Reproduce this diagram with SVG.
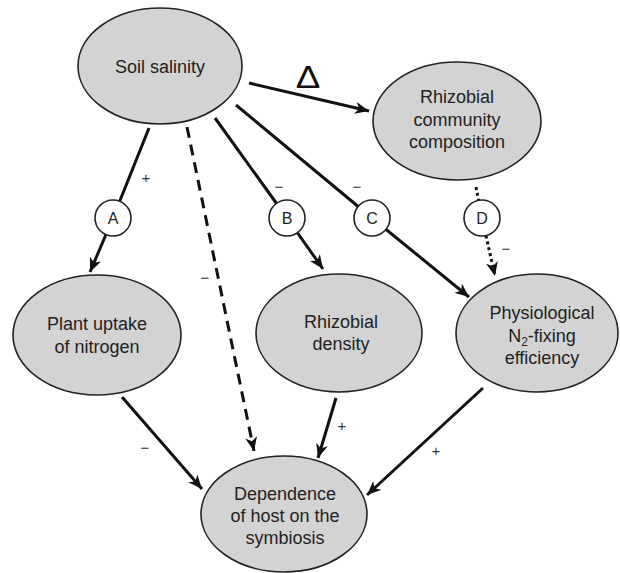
<svg xmlns="http://www.w3.org/2000/svg" width="620" height="573" viewBox="0 0 620 573">
<style>
.node ellipse{fill:#d3d3d3;stroke:#222;stroke-width:1.6}
.t{font-family:"Liberation Sans",Arial,sans-serif;font-size:18px;fill:#222;text-anchor:middle}
.c{fill:none;stroke:#111;stroke-width:3}
.dash{stroke-dasharray:11 7}
.dot{stroke-dasharray:3 3}
.lab circle{fill:#fff;stroke:#222;stroke-width:1.6}
.lab text{font-family:"Liberation Sans",Arial,sans-serif;font-size:16px;fill:#222;text-anchor:middle}
.s{font-family:"Liberation Sans",Arial,sans-serif;font-size:15px;fill:#333;text-anchor:middle}
</style>
<defs>
<marker id="ah" markerUnits="userSpaceOnUse" markerWidth="16" markerHeight="14" refX="14" refY="6" orient="auto">
<path d="M0,0 L14,6 L0,12 L4,6 z" fill="#111"/>
</marker>
</defs>
<rect width="620" height="573" fill="#fff"/>
<g id="connectors">
<line class="c" x1="249" y1="83" x2="369" y2="111" marker-end="url(#ah)"/>
<line class="c" x1="149" y1="128" x2="113" y2="218"/>
<line class="c" x1="113" y1="218" x2="90" y2="272" marker-end="url(#ah)"/>
<line class="c dash" x1="187" y1="127" x2="254" y2="451" marker-end="url(#ah)"/>
<line class="c" x1="215" y1="118" x2="287" y2="218"/>
<line class="c" x1="287" y1="218" x2="323" y2="269" marker-end="url(#ah)"/>
<line class="c" x1="236" y1="105" x2="372" y2="218"/>
<line class="c" x1="372" y1="218" x2="469" y2="297" marker-end="url(#ah)"/>
<line class="c dot" x1="476" y1="187" x2="482" y2="218"/>
<line class="c dot" x1="482" y1="218" x2="495" y2="276" marker-end="url(#ah)"/>
<line class="c" x1="122" y1="397" x2="202" y2="489" marker-end="url(#ah)"/>
<line class="c" x1="336" y1="398" x2="318" y2="458" marker-end="url(#ah)"/>
<line class="c" x1="483" y1="388" x2="367" y2="495" marker-end="url(#ah)"/>
<g class="lab">
<circle cx="113" cy="218" r="18"/><text x="113" y="224">A</text>
<circle cx="287" cy="218" r="18"/><text x="287" y="224">B</text>
<circle cx="372" cy="218" r="18"/><text x="372" y="224">C</text>
<circle cx="482" cy="218" r="18"/><text x="482" y="224">D</text>
</g>
<text transform="translate(308,88) scale(1.15,1)" style="font-family:'Liberation Sans',Arial,sans-serif;font-size:32px;fill:#111;text-anchor:middle">Δ</text>
<text class="s" x="146" y="183">+</text>
<text class="s" x="279" y="192">−</text>
<text class="s" x="357" y="192">−</text>
<text class="s" x="506" y="254">−</text>
<text class="s" x="205" y="283">−</text>
<text class="s" x="145" y="453">−</text>
<text class="s" x="342" y="431">+</text>
<text class="s" x="436" y="456">+</text>
</g>
<g id="soil" class="node">
<ellipse cx="160" cy="66" rx="82" ry="58"/>
<text class="t" x="160" y="73">Soil salinity</text>
</g>
<g id="community" class="node">
<ellipse cx="457" cy="121" rx="84" ry="59"/>
<text class="t" x="457" y="103">Rhizobial</text>
<text class="t" x="457" y="126">community</text>
<text class="t" x="457" y="148">composition</text>
</g>
<g id="uptake" class="node">
<ellipse cx="97" cy="335" rx="84" ry="60"/>
<text class="t" x="97" y="330">Plant uptake</text>
<text class="t" x="97" y="353">of nitrogen</text>
</g>
<g id="density" class="node">
<ellipse cx="339" cy="333" rx="83" ry="59"/>
<text class="t" x="341" y="328">Rhizobial</text>
<text class="t" x="341" y="350">density</text>
</g>
<g id="efficiency" class="node">
<ellipse cx="537" cy="333" rx="81" ry="59"/>
<text class="t" x="542" y="319">Physiological</text>
<text class="t" x="542" y="342">N<tspan font-size="12" dy="4">2</tspan><tspan dy="-4">-fixing</tspan></text>
<text class="t" x="542" y="364">efficiency</text>
</g>
<g id="dependence" class="node">
<ellipse cx="284" cy="514" rx="83" ry="58"/>
<text class="t" x="285" y="500">Dependence</text>
<text class="t" x="285" y="522">of host on the</text>
<text class="t" x="285" y="544">symbiosis</text>
</g>
</svg>
